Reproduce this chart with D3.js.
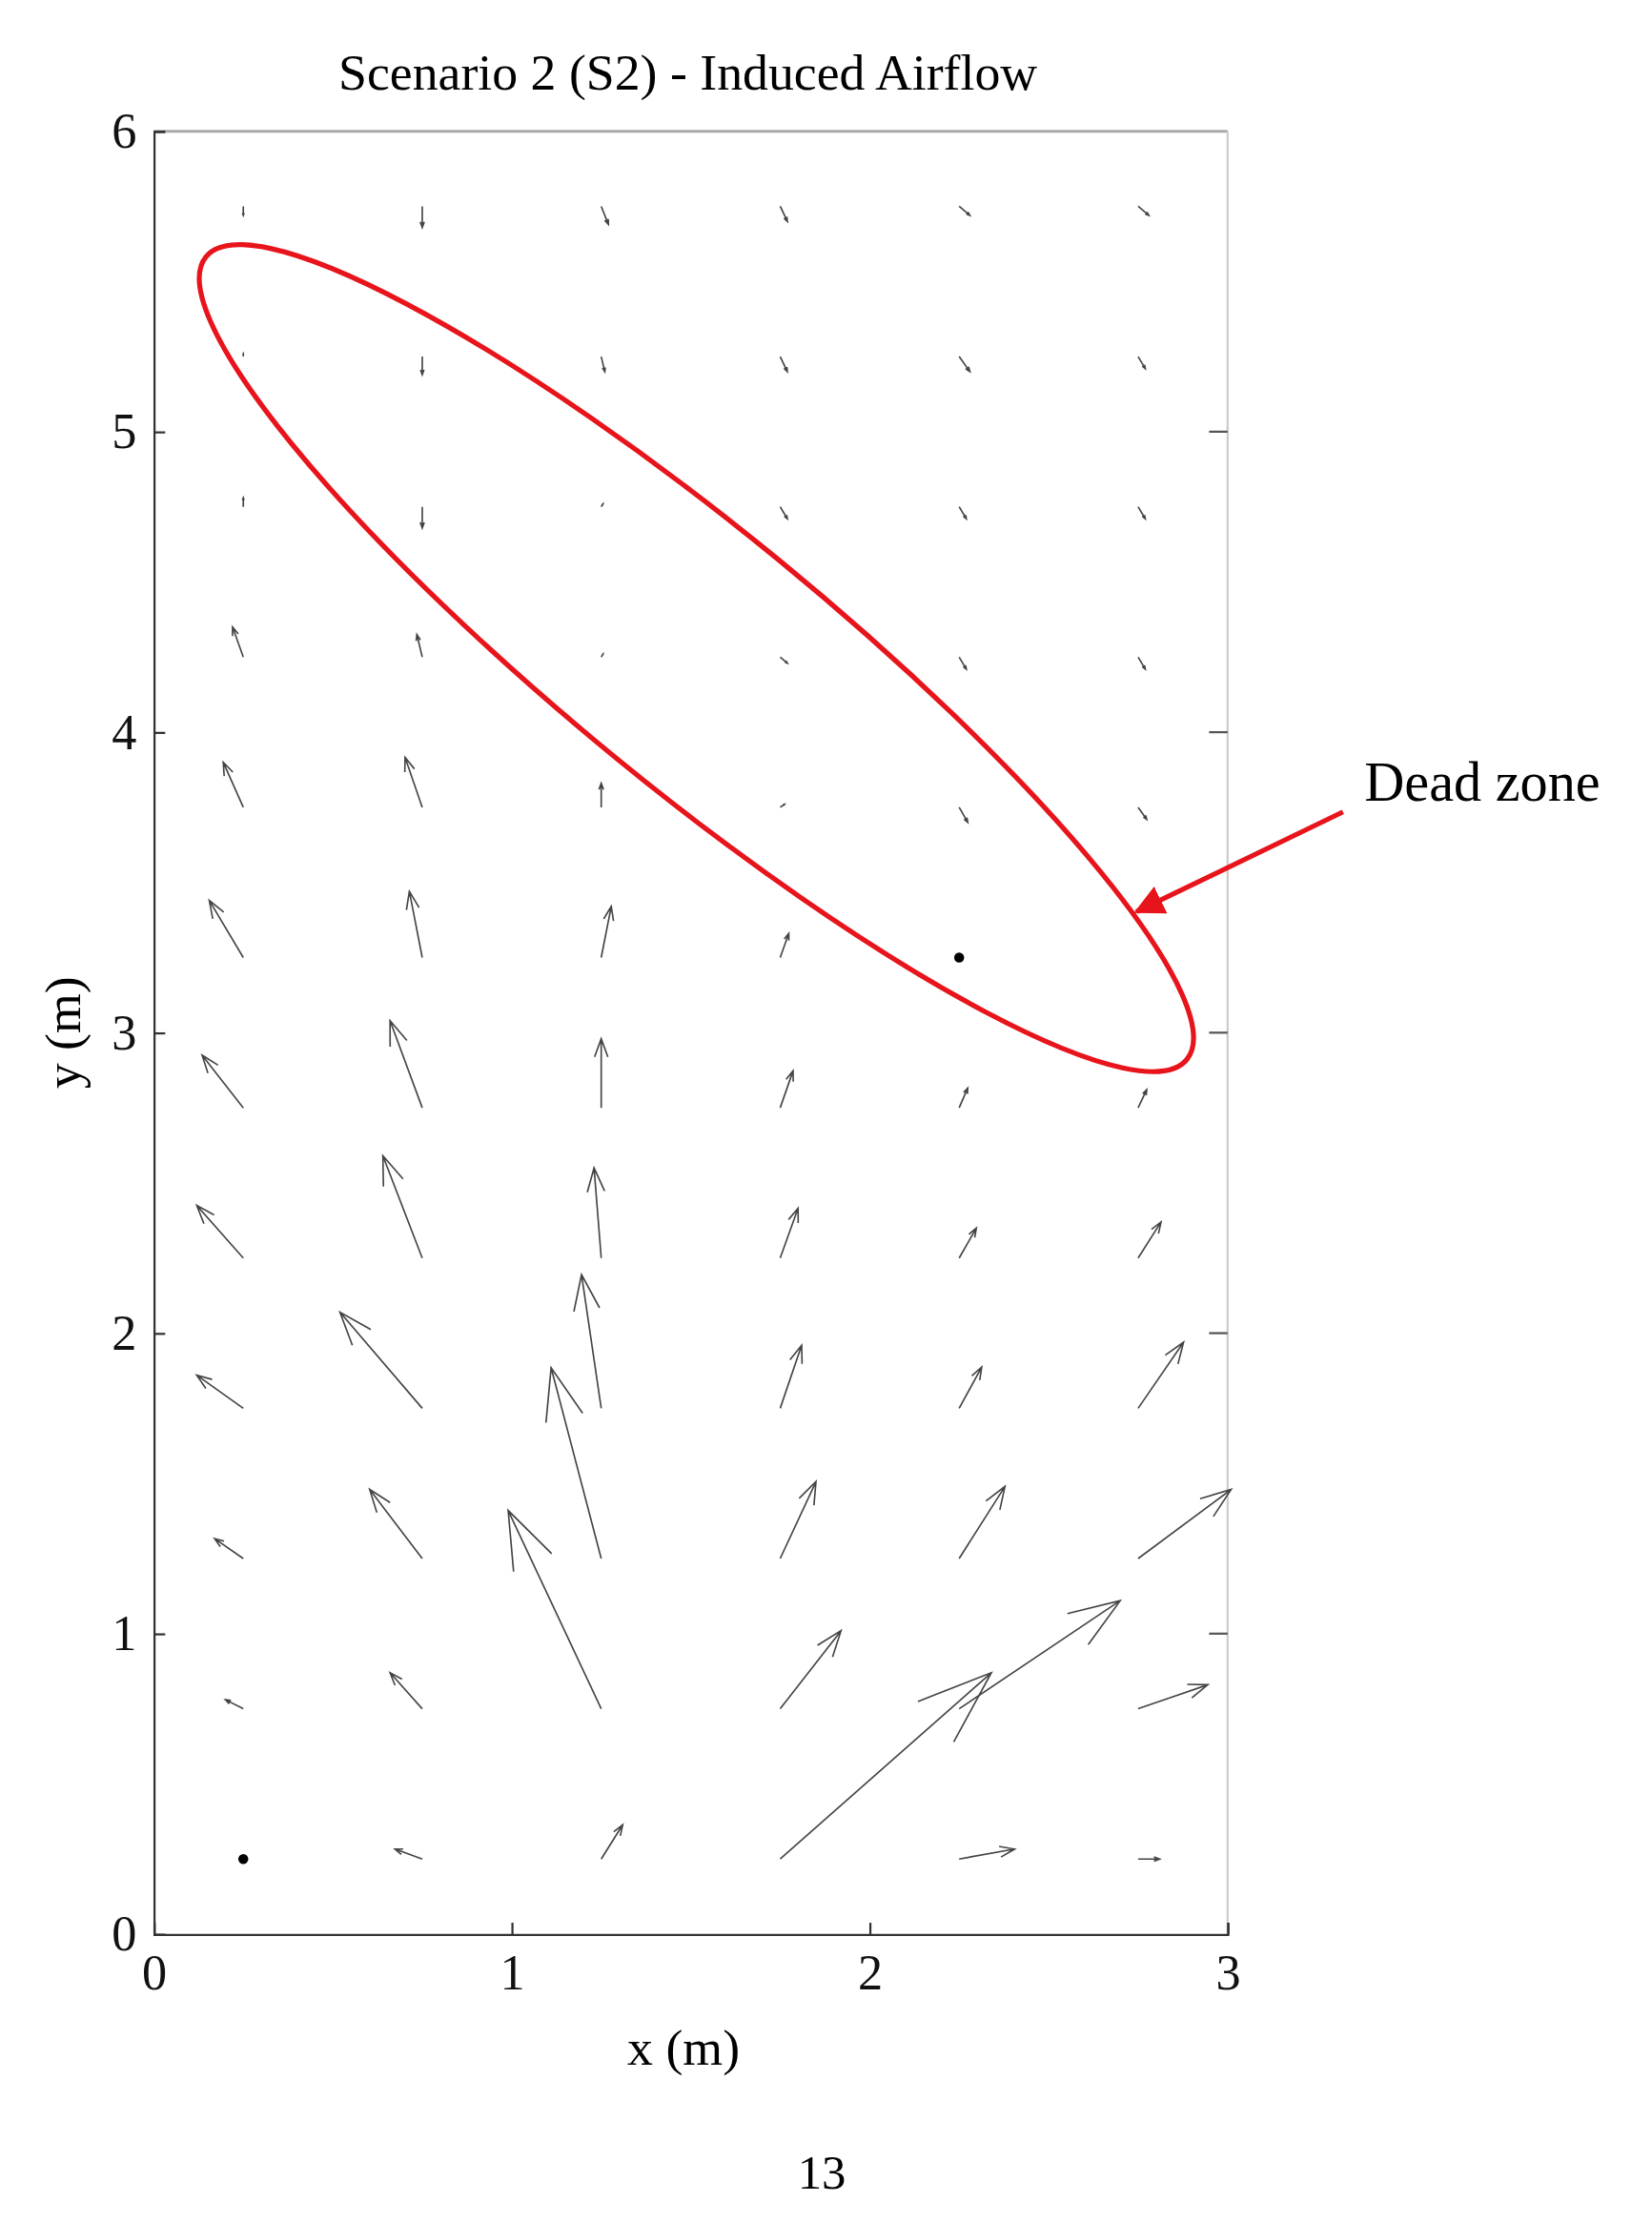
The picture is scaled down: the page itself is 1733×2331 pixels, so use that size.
<!DOCTYPE html>
<html>
<head>
<script src="https://d3js.org/d3.v7.min.js"></script>
<style>body{margin:0;background:#fff}</style>
</head>
<body>
<svg id="chart" width="1733" height="2331" viewBox="0 0 1160 1560"></svg>
<script>
// grid positions (m)
const xs = [0.25, 0.75, 1.25, 1.75, 2.25, 2.75];
const ys = [0.25, 0.75, 1.25, 1.75, 2.25, 2.75, 3.25, 3.75, 4.25, 4.75, 5.25, 5.75];
// velocity components per row (bottom to top), per column
const u = [
  [0, -0.076, 0.06, 0.59, 0.155, 0.06],
  [-0.05, -0.09, -0.26, 0.17, 0.45, 0.195],
  [-0.08, -0.147, -0.14, 0.1, 0.128, 0.26],
  [-0.13, -0.23, -0.055, 0.06, 0.063, 0.127],
  [-0.13, -0.11, -0.02, 0.05, 0.048, 0.064],
  [-0.115, -0.09, 0, 0.036, 0.024, 0.024],
  [-0.095, -0.036, 0.028, 0.024, 0, 0],
  [-0.056, -0.048, 0, 0.012, 0.024, 0.024],
  [-0.03, -0.015, 0.005, 0.02, 0.02, 0.02],
  [0, 0, 0.005, 0.02, 0.02, 0.02],
  [0, 0, 0.01, 0.02, 0.03, 0.02],
  [0, 0, 0.02, 0.02, 0.03, 0.03]
];
const v = [
  [0, 0.033, 0.114, 0.62, 0.033, 0],
  [0.03, 0.12, 0.66, 0.26, 0.36, 0.08],
  [0.066, 0.23, 0.635, 0.256, 0.24, 0.23],
  [0.11, 0.32, 0.445, 0.21, 0.137, 0.22],
  [0.175, 0.34, 0.3, 0.166, 0.1, 0.12],
  [0.175, 0.29, 0.23, 0.123, 0.066, 0.06],
  [0.19, 0.22, 0.17, 0.08, 0, 0],
  [0.15, 0.166, 0.08, 0.01, -0.05, -0.04],
  [0.1, 0.075, 0.01, -0.02, -0.04, -0.04],
  [0.03, -0.07, 0.01, -0.04, -0.04, -0.04],
  [0.01, -0.06, -0.05, -0.05, -0.05, -0.04],
  [-0.03, -0.07, -0.06, -0.05, -0.03, -0.03]
];
const xTicks = [0, 1, 2, 3];
const yTicks = [0, 1, 2, 3, 4, 5, 6];
const dots = [[0.25, 0.25], [2.25, 3.25]];

const svg = d3.select('#chart');
const x = d3.scaleLinear().domain([0, 3]).range([108, 862]);
const y = d3.scaleLinear().domain([0, 6]).range([1358, 92]);
const font = '"Liberation Serif", "DejaVu Serif", serif';

// frame
svg.append('line').attr('x1', 108).attr('x2', 862).attr('y1', 92).attr('y2', 92).attr('stroke', '#aaa').attr('stroke-width', 2);
svg.append('line').attr('x1', 862).attr('x2', 862).attr('y1', 92).attr('y2', 1358).attr('stroke', '#ccc').attr('stroke-width', 1.5);

const xAxis = svg.append('g').attr('transform', 'translate(0,1358)')
  .call(d3.axisBottom(x).tickValues(xTicks).tickSize(-8).tickPadding(14).tickFormat(d3.format('d')));
const yAxis = svg.append('g').attr('transform', 'translate(108,0)')
  .call(d3.axisLeft(y).tickValues(yTicks).tickSize(-8).tickPadding(12).tickFormat(d3.format('d')));
[xAxis, yAxis].forEach(a => {
  a.selectAll('text').attr('font-family', font).attr('font-size', 35).attr('fill', '#111');
  a.selectAll('path,line').attr('stroke', '#333').attr('stroke-width', 1.5);
});
// right-side tick marks
svg.append('g').selectAll('line').data(yTicks.slice(1, -1)).join('line')
  .attr('x1', 849).attr('x2', 862).attr('y1', d => y(d)).attr('y2', d => y(d))
  .attr('stroke', '#555').attr('stroke-width', 1.5);

// quiver arrows
const arrows = svg.append('g').attr('stroke', '#444').attr('stroke-width', 1.1).attr('fill', 'none');
ys.forEach((yy, i) => xs.forEach((xx, j) => {
  const x0 = x(xx), y0 = y(yy), x1 = x(xx + u[i][j]), y1 = y(yy + v[i][j]);
  const len = Math.hypot(x1 - x0, y1 - y0);
  if (len < 1) return;
  const ang = Math.atan2(y1 - y0, x1 - x0), h = len * 0.28, a = 0.35;
  arrows.append('path').attr('d',
    `M${x0},${y0}L${x1},${y1}M${x1 - h * Math.cos(ang - a)},${y1 - h * Math.sin(ang - a)}L${x1},${y1}L${x1 - h * Math.cos(ang + a)},${y1 - h * Math.sin(ang + a)}`);
}));
svg.append('g').selectAll('circle').data(dots).join('circle')
  .attr('cx', d => x(d[0])).attr('cy', d => y(d[1])).attr('r', 3.5).attr('fill', '#000');

// dead zone ellipse
svg.append('ellipse').attr('cx', 489).attr('cy', 462).attr('rx', 445).attr('ry', 90)
  .attr('transform', 'rotate(39.3,489,462)')
  .attr('fill', 'none').attr('stroke', '#e8141c').attr('stroke-width', 3.5);
svg.append('defs').append('marker').attr('id', 'rh').attr('viewBox', '0 0 10 10')
  .attr('refX', 9).attr('refY', 5).attr('markerWidth', 6).attr('markerHeight', 6).attr('orient', 'auto')
  .append('path').attr('d', 'M0,0L10,5L0,10Z').attr('fill', '#e8141c');
svg.append('line').attr('x1', 943).attr('y1', 570).attr('x2', 798).attr('y2', 640)
  .attr('stroke', '#e8141c').attr('stroke-width', 3.5).attr('marker-end', 'url(#rh)');
svg.append('text').attr('x', 958).attr('y', 562).attr('font-family', font).attr('font-size', 39).text('Dead zone');

// titles and labels
svg.append('text').attr('x', 483).attr('y', 63).attr('text-anchor', 'middle').attr('font-family', font).attr('font-size', 36).text('Scenario 2 (S2) - Induced Airflow');
svg.append('text').attr('x', 480).attr('y', 1450).attr('text-anchor', 'middle').attr('font-family', font).attr('font-size', 36).text('x (m)');
svg.append('text').attr('transform', 'translate(56,725) rotate(-90)').attr('text-anchor', 'middle').attr('font-family', font).attr('font-size', 36).text('y (m)');
svg.append('text').attr('x', 577).attr('y', 1537).attr('text-anchor', 'middle').attr('font-family', font).attr('font-size', 34).text('13');
</script>
</body>
</html>
